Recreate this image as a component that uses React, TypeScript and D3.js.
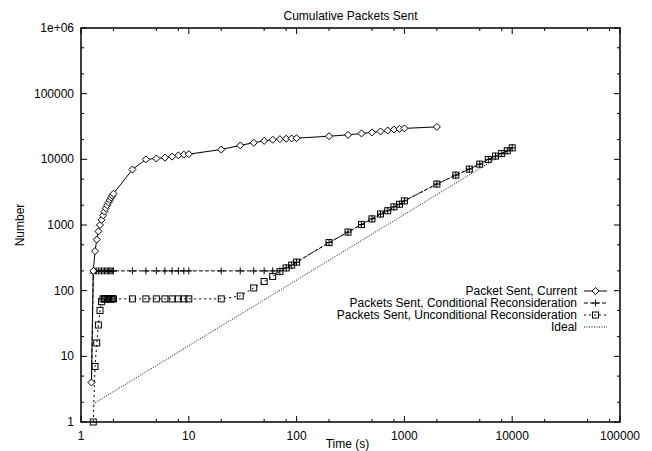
import React from "react";
import * as d3 from "d3";

// ---- data ----
const xTickValues = [1, 10, 100, 1000, 10000, 100000];
const xTickLabels = ["1", "10", "100", "1000", "10000", "100000"];
const yTickValues = [1, 10, 100, 1000, 10000, 100000, 1000000];
const yTickLabels = ["1", "10", "100", "1000", "10000", "100000", "1e+06"];
const xMinorMultipliers = [2, 5, 8];
const yMinorMultipliers = [2, 5];

const currentTimes = [1.25, 1.3, 1.35, 1.4, 1.45, 1.5, 1.55, 1.6, 1.65, 1.7, 1.75, 1.8, 1.85, 1.9, 1.95, 2,
  3, 4, 5, 6, 7, 8, 9, 10, 20, 30, 40, 50, 60, 70, 80, 90, 100,
  200, 300, 400, 500, 600, 700, 800, 900, 1000, 2000];
const currentValues = [4, 200, 400, 600, 800, 1000, 1200, 1400, 1600, 1800, 2000, 2200, 2400, 2600, 2800, 3000,
  7000, 10000, 10300, 10600, 11000, 11500, 11800, 12000, 14100, 16300, 17900, 19100, 19900, 20300, 20600, 20800, 21000,
  22500, 23600, 24800, 25700, 26600, 27500, 28500, 29100, 29600, 31200];

const conditionalTimes = [1.25, 1.3, 1.35, 1.4, 1.45, 1.5, 1.55, 1.6, 1.65, 1.7, 1.75, 1.8, 1.85, 1.9, 1.95, 2,
  3, 4, 5, 6, 7, 8, 9, 10, 20, 30, 40, 50, 60, 70, 80, 90, 100,
  200, 300, 400, 500, 600, 700, 800, 900, 1000, 2000, 3000, 4000, 5000, 6000, 7000, 8000, 9000, 10000];
const conditionalValues = [4, 185, 200, 200, 200, 200, 200, 200, 200, 200, 200, 200, 200, 200, 200, 200,
  200, 200, 200, 200, 200, 200, 200, 200, 200, 200, 200, 200, 200, 200, 222, 245, 272,
  540, 780, 1020, 1240, 1470, 1650, 1890, 2070, 2330, 4200, 5750, 7100, 8450, 9960, 11200, 12300, 13500, 14970];

const unconditionalTimes = [1.3, 1.35, 1.4, 1.45, 1.5, 1.55, 1.6, 1.65, 1.7, 1.75, 1.8, 1.85, 1.9, 1.95, 2,
  3, 4, 5, 6, 7, 8, 9, 10, 20, 30, 40, 50, 60, 70, 80, 90, 100,
  200, 300, 400, 500, 600, 700, 800, 900, 1000, 2000, 3000, 4000, 5000, 6000, 7000, 8000, 9000, 10000];
const unconditionalValues = [1, 7, 16, 30, 50, 68, 75, 75, 75, 75, 75, 75, 75, 75, 75,
  75, 75, 75, 75, 75, 75, 75, 75, 75, 83, 110, 138, 165, 195, 222, 245, 272,
  540, 780, 1020, 1240, 1470, 1650, 1890, 2070, 2330, 4200, 5750, 7100, 8450, 9960, 11200, 12300, 13500, 14970];

const idealTimes = [1.3, 10000];
const idealValues = [1.885, 14500];

const legendLabels = [
  "Packet Sent, Current",
  "Packets Sent, Conditional Reconsideration",
  "Packets Sent, Unconditional Reconsideration",
  "Ideal",
];

// ---- layout ----
const W = 652, H = 451;
const L = 81, R = 620, T = 28, B = 422;
const FONT = "'Liberation Sans', Arial, Helvetica, sans-serif";

const x = d3.scaleLog().domain([1, 100000]).range([L, R]);
const y = d3.scaleLog().domain([1, 1000000]).range([B, T]);

type Pt = [number, number];
const zip = (a: number[], b: number[]): Pt[] => a.map((t, i) => [t, b[i]]);

const line = d3.line<Pt>().x(d => x(d[0])).y(d => y(d[1]));

const Diamond = ({ cx, cy }: { cx: number; cy: number }) => (
  <path d={`M${cx - 3.5},${cy}L${cx},${cy - 3.5}L${cx + 3.5},${cy}L${cx},${cy + 3.5}Z`} fill="white" stroke="black" strokeWidth={1} />
);
const Plus = ({ cx, cy }: { cx: number; cy: number }) => (
  <path d={`M${cx - 3.5},${cy}H${cx + 3.5}M${cx},${cy - 3.5}V${cy + 3.5}`} fill="none" stroke="black" strokeWidth={1} />
);
const Square = ({ cx, cy }: { cx: number; cy: number }) => (
  <rect x={cx - 3} y={cy - 3} width={6} height={6} fill="none" stroke="black" strokeWidth={1} />
);

export default function App() {
  const cur = zip(currentTimes, currentValues);
  const cond = zip(conditionalTimes, conditionalValues);
  const unc = zip(unconditionalTimes, unconditionalValues);
  const ideal = zip(idealTimes, idealValues);

  const xMinor: number[] = [];
  for (let i = 0; i < xTickValues.length - 1; i++) xMinorMultipliers.forEach(m => xMinor.push(xTickValues[i] * m));
  const yMinor: number[] = [];
  for (let i = 0; i < yTickValues.length - 1; i++) yMinorMultipliers.forEach(m => yMinor.push(yTickValues[i] * m));

  const legendY = [291, 303, 315, 327];
  const lx0 = 584, lx1 = 607, lmx = 595.5;

  return (
    <div style={{ position: "fixed", left: 0, top: 0 }}>
      <svg width={W} height={H} style={{ display: "block", background: "white" }} fontFamily={FONT}>
        <rect width={W} height={H} fill="white" />
        {/* ticks */}
        {xTickValues.map((v, i) => (
          <g key={"xt" + i}>
            <line x1={x(v)} x2={x(v)} y1={B} y2={B - 6} stroke="black" />
            <line x1={x(v)} x2={x(v)} y1={T} y2={T + 6} stroke="black" />
            <text x={x(v)} y={440} fontSize={12} textAnchor="middle">{xTickLabels[i]}</text>
          </g>
        ))}
        {xMinor.map((v, i) => (
          <g key={"xm" + i}>
            <line x1={x(v)} x2={x(v)} y1={B} y2={B - 3} stroke="black" />
            <line x1={x(v)} x2={x(v)} y1={T} y2={T + 3} stroke="black" />
          </g>
        ))}
        {yTickValues.map((v, i) => (
          <g key={"yt" + i}>
            <line x1={L} x2={L + 6} y1={y(v)} y2={y(v)} stroke="black" />
            <line x1={R} x2={R - 6} y1={y(v)} y2={y(v)} stroke="black" />
            <text x={74} y={y(v) + 4} fontSize={12} textAnchor="end">{yTickLabels[i]}</text>
          </g>
        ))}
        {yMinor.map((v, i) => (
          <g key={"ym" + i}>
            <line x1={L} x2={L + 3} y1={y(v)} y2={y(v)} stroke="black" />
            <line x1={R} x2={R - 3} y1={y(v)} y2={y(v)} stroke="black" />
          </g>
        ))}

        {/* series lines */}
        <path d={line(ideal) || ""} fill="none" stroke="black" strokeWidth={1} strokeDasharray="1,1.5" />
        <path d={line(unc) || ""} fill="none" stroke="black" strokeWidth={1} strokeDasharray="2,3" />
        <path d={line(cond) || ""} fill="none" stroke="black" strokeWidth={1} strokeDasharray="4,2" />
        <path d={line(cur) || ""} fill="none" stroke="black" strokeWidth={1} />

        {/* markers */}
        {unc.map((d, i) => <Square key={"u" + i} cx={x(d[0])} cy={y(d[1])} />)}
        {cond.map((d, i) => <Plus key={"c" + i} cx={x(d[0])} cy={y(d[1])} />)}
        {cur.map((d, i) => <Diamond key={"d" + i} cx={x(d[0])} cy={y(d[1])} />)}

        {/* frame */}
        <rect x={L} y={T} width={R - L} height={B - T} fill="none" stroke="black" strokeWidth={1.5} />

        {/* title & axis labels */}
        <text x={(L + R) / 2} y={20} fontSize={12} textAnchor="middle">Cumulative Packets Sent</text>
        <text x={(L + R) / 2 - 3} y={448} fontSize={12} textAnchor="middle">Time (s)</text>
        <text transform={`translate(24,${(T + B) / 2}) rotate(-90)`} fontSize={12} textAnchor="middle">Number</text>

        {/* legend */}
        {legendLabels.map((lab, i) => (
          <text key={"lt" + i} x={577} y={legendY[i] + 4} fontSize={12} textAnchor="end">{lab}</text>
        ))}
        <line x1={lx0} x2={lx1} y1={legendY[0]} y2={legendY[0]} stroke="black" />
        <Diamond cx={lmx} cy={legendY[0]} />
        <line x1={lx0} x2={lx1} y1={legendY[1]} y2={legendY[1]} stroke="black" strokeDasharray="4,2" />
        <Plus cx={lmx} cy={legendY[1]} />
        <line x1={lx0} x2={lx1} y1={legendY[2]} y2={legendY[2]} stroke="black" strokeDasharray="2,3" />
        <Square cx={lmx} cy={legendY[2]} />
        <line x1={lx0} x2={lx1} y1={legendY[3]} y2={legendY[3]} stroke="black" strokeDasharray="1,1.5" />
      </svg>
    </div>
  );
}
